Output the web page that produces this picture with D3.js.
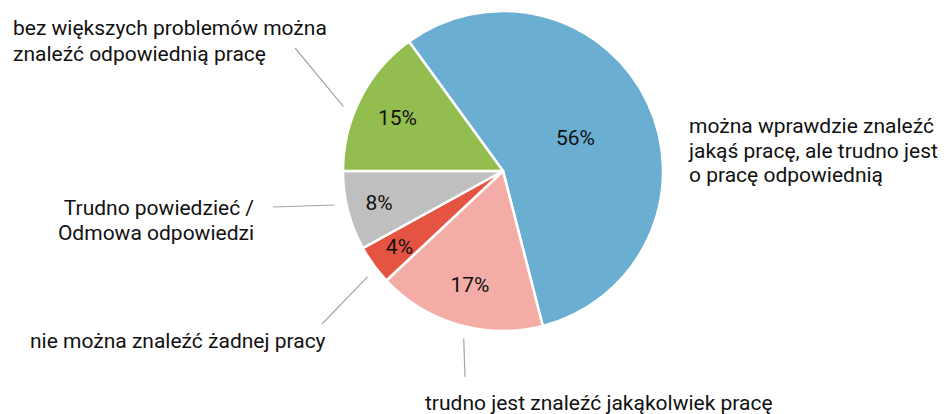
<!DOCTYPE html>
<html lang="pl">
<head>
<meta charset="utf-8">
<script src="https://cdn.jsdelivr.net/npm/d3@7"></script>
<style>
  html, body { margin: 0; padding: 0; background: #fff; }
  #wykres { width: 946px; height: 414px; }
  text { font-family: Roboto, "Noto Sans", sans-serif; fill: #111; }
</style>
</head>
<body>
<div id="wykres"></div>
<script>
// Dane (kolejność zgodnie z ruchem wskazówek zegara)
const kategorie = [
    'można wprawdzie znaleźć jakąś pracę, ale trudno jest o pracę odpowiednią',
    'trudno jest znaleźć jakąkolwiek pracę',
    'nie można znaleźć żadnej pracy',
    'Trudno powiedzieć / Odmowa odpowiedzi',
    'bez większych problemów można znaleźć odpowiednią pracę'
];
const wartosci = [56, 17, 4, 8, 15];
const etykiety = [
    ['można wprawdzie znaleźć', 'jakąś pracę, ale trudno jest', 'o pracę odpowiednią'],
    ['trudno jest znaleźć jakąkolwiek pracę'],
    ['nie można znaleźć żadnej pracy'],
    ['Trudno powiedzieć /', 'Odmowa odpowiedzi'],
    ['bez większych problemów można', 'znaleźć odpowiednią pracę']
];
const kolory = ['#6aaed1', '#f4aca6', '#e55443', '#bfbfbf', '#93bd4f'];

const szer = 946, wys = 414;
const cx = 503, cy = 171, r = 160;

// Układ etykiet zewnętrznych (pozycja tekstu, koniec linii, korekta kąta linii)
const uklad = [
    { x: 689, y: 133, anchor: 'start', linia: null, odstep: 24.5 },
    { x: 425, y: 410, anchor: 'start', linia: [465, 377], dKat: -3 },
    { x: 30, y: 348, anchor: 'start', linia: [322, 324], dKat: -2 },
    { x: 254, y: 215, anchor: 'end', linia: [273, 207], dKat: 3, odstep: 25 },
    { x: 13, y: 35, anchor: 'start', linia: [295, 48], dKat: -5, odstep: 26 }
];

const svg = d3.select('#wykres')
    .append('svg')
    .attr('width', szer)
    .attr('height', wys);

const g = svg.append('g').attr('transform', `translate(${cx},${cy})`);

const pie = d3.pie()
    .sort(null)
    .value(d => d)
    .startAngle(-36 * Math.PI / 180)
    .endAngle(324 * Math.PI / 180);

const luki = pie(wartosci);
const arc = d3.arc().innerRadius(0).outerRadius(r);

// Wycinki
g.selectAll('path.wycinek')
    .data(luki)
    .enter()
    .append('path')
    .attr('class', 'wycinek')
    .attr('d', arc)
    .attr('fill', (d, i) => kolory[i])
    .attr('stroke', '#fff')
    .attr('stroke-width', 2.5)
    .attr('stroke-linejoin', 'round');

// Etykiety procentowe - mniejsze wycinki mają etykietę bliżej krawędzi
const promienEtykiety = d => (d.value > 50 ? 0.5 : d.value < 10 ? 0.8 : 0.74) * r;
g.selectAll('text.proc')
    .data(luki)
    .enter()
    .append('text')
    .attr('class', 'proc')
    .attr('x', d => {
        const a = (d.startAngle + d.endAngle) / 2;
        return Math.sin(a) * promienEtykiety(d);
    })
    .attr('y', d => {
        const a = (d.startAngle + d.endAngle) / 2;
        return -Math.cos(a) * promienEtykiety(d);
    })
    .attr('dy', '0.36em')
    .attr('text-anchor', 'middle')
    .style('font-size', '21px')
    .text(d => d.value + '%');

// Linie odniesienia
luki.forEach((d, i) => {
    const u = uklad[i];
    if (!u.linia) return;
    const a = (d.startAngle + d.endAngle) / 2 + (u.dKat || 0) * Math.PI / 180;
    const r0 = r + 12;
    svg.append('line')
        .attr('x1', cx + Math.sin(a) * r0)
        .attr('y1', cy - Math.cos(a) * r0)
        .attr('x2', u.linia[0])
        .attr('y2', u.linia[1])
        .attr('stroke', '#a6a6a6')
        .attr('stroke-width', 1.2);
});

// Etykiety kategorii
etykiety.forEach((linie, i) => {
    const u = uklad[i];
    const t = svg.append('text')
        .attr('x', u.x)
        .attr('y', u.y)
        .attr('text-anchor', u.anchor)
        .style('font-size', '21px');
    linie.forEach((l, j) => {
        t.append('tspan')
            .attr('x', u.x)
            .attr('dy', j === 0 ? 0 : (u.odstep || 25))
            .text(l);
    });
});
</script>
</body>
</html>
